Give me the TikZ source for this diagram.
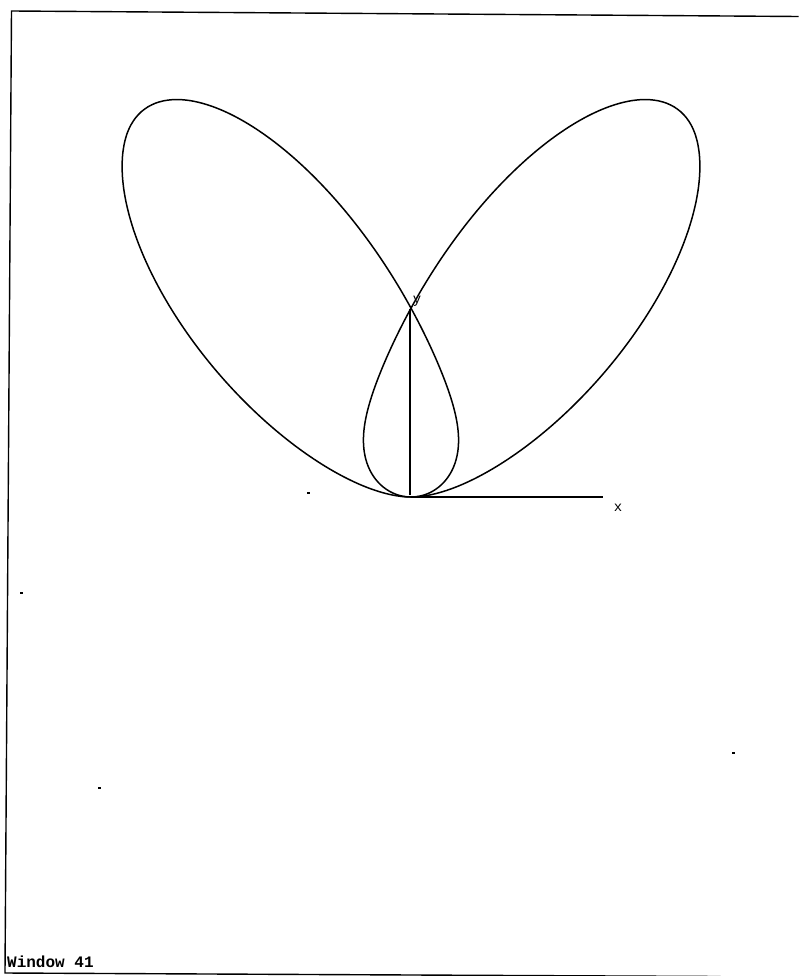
\documentclass[tikz,border=0pt]{standalone}
\usepackage{fontspec}
\newfontfamily\pixfont{Liberation Mono}
\tikzset{
  frame/.style={line width=1.4pt, line cap=rect},
  curve/.style={line width=1.5pt, line join=round},
  axis/.style={line width=1.5pt},
  lbl/.style={font=\pixfont\fontsize{14}{14}\selectfont, inner sep=0pt},
  winlbl/.style={font=\pixfont\bfseries\fontsize{16}{16}\selectfont, inner sep=0pt},
  speck/.style={fill=black, draw=none, minimum width=3pt, minimum height=2.5pt, inner sep=0pt}
}
\begin{document}
\begin{tikzpicture}[x=1pt,y=-1pt,
  declare function={
    aw(\t)=((\t<51)?0.0006:0.0007);
    Gf(\t)=83+503/((1+aw(\t)*(\t-51)*(\t-51))^2.146);
    rf(\t)=sin(\t)*Gf(\t);
  }]
\useasboundingbox (0,0) rectangle (798,976);
\fill[white] (0,0) rectangle (798,976);
% frame
\coordinate (tl) at (11.5,11);
\coordinate (tr) at (798,16.5);
\coordinate (bl) at (5,973);
\coordinate (br) at (720,976.5);
\draw[frame] (tr) -- (tl) -- (bl) -- (br);
\node[winlbl, anchor=base west] (win) at (7,967) {Window 41};
% axes
\coordinate (O) at (411,497);
\coordinate (xend) at (603,497);
\coordinate (ybot) at (410,495);
\coordinate (ytop) at (410,309);
\draw[axis] (O) -- (xend);
\draw[axis] (ybot) -- (ytop);
\node[lbl] (xl) at (618,508) {x};
\node[lbl] (yl) at (417,301) {y};
% polar curve r(theta) and its mirror image (negative-r half)
\begin{scope}[shift={(O)}, yscale=-1]
  \draw[curve] plot[domain=0:180, samples=181, smooth]
    ({rf(\x)*cos(\x)}, {rf(\x)*sin(\x)});
  \draw[curve] plot[domain=0:180, samples=181, smooth]
    ({-rf(\x)*cos(\x)}, {rf(\x)*sin(\x)});
\end{scope}
% stray specks
\node[speck] (s1) at (308,493) {};
\node[speck] (s2) at (21,593) {};
\node[speck] (s3) at (733,753) {};
\node[speck] (s4) at (99,788) {};
\end{tikzpicture}
\end{document}
